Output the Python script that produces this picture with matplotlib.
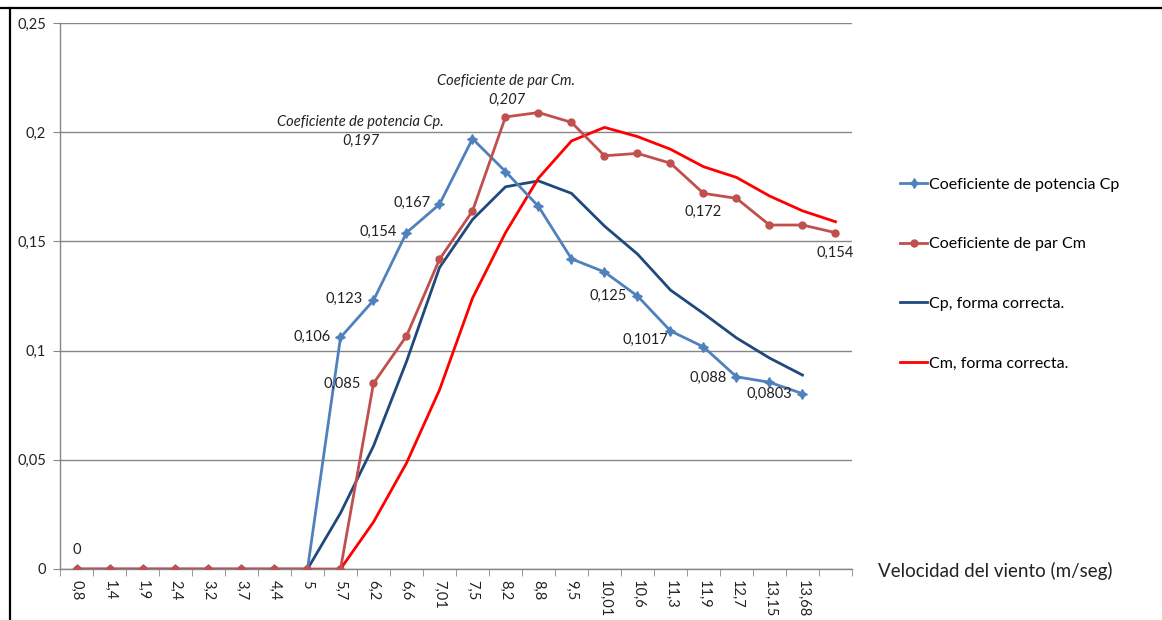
import numpy as np
import matplotlib
matplotlib.use("Agg")
import matplotlib.pyplot as plt
from matplotlib.lines import Line2D

plt.rcParams['font.family'] = ['Lato', 'DejaVu Sans']

nan = np.nan
velocidades = ["0,8", "1,4", "1,9", "2,4", "3,2", "3,7", "4,4", "5", "5,7", "6,2", "6,6", "7,01",
               "7,5", "8,2", "8,8", "9,5", "10,01", "10,6", "11,3", "11,9", "12,7", "13,15", "13,68", ""]

cp = [0, 0, 0, 0, 0, 0, 0, 0, 0.106, 0.123, 0.154, 0.167, 0.197, 0.182, 0.166, 0.142,
      0.136, 0.125, 0.109, 0.1017, 0.088, 0.0855, 0.0803, nan]
cm = [0, 0, 0, 0, 0, 0, 0, 0, 0, 0.085, 0.1067, 0.1418, 0.1639, 0.207, 0.209, 0.2045,
      0.1892, 0.1903, 0.1858, 0.172, 0.1697, 0.1575, 0.1575, 0.154]
cp_correcta = [nan, nan, nan, nan, nan, nan, nan, 0, 0.0256, 0.0563, 0.095, 0.138, 0.160,
               0.175, 0.1777, 0.172, 0.157, 0.1442, 0.1277, 0.117, 0.1058, 0.0966, 0.0888, nan]
cm_correcta = [nan, nan, nan, nan, nan, nan, nan, nan, 0, 0.0215, 0.0485, 0.082, 0.124, 0.154,
               0.179, 0.196, 0.2022, 0.198, 0.1922, 0.1842, 0.1793, 0.1708, 0.164, 0.159]

y_ticks = [0, 0.05, 0.1, 0.15, 0.2, 0.25]
y_labels = ["0", "0,05", "0,1", "0,15", "0,2", "0,25"]

W, H = 1162, 620
fig = plt.figure(figsize=(W / 100, H / 100), dpi=100)
ax = fig.add_axes([60 / W, 1 - 569 / H, (852 - 60) / W, (569 - 23) / H])

x = np.arange(len(velocidades))
c_cp, c_cm, c_cpc, c_cmc = "#4F81BD", "#C0504D", "#1F497D", "#FF0000"

ax.plot(x, cp_correcta, color=c_cpc, lw=2, zorder=3, label="Cp, forma correcta.")
ax.plot(x, cm_correcta, color=c_cmc, lw=2, zorder=3, label="Cm, forma correcta.")
ax.plot(x, cp, color=c_cp, lw=2, marker=(4, 1, 0), markersize=7, zorder=4,
        label="Coeficiente de potencia Cp")
ax.plot(x, cm, color=c_cm, lw=2, marker="o", markersize=5, zorder=5,
        label="Coeficiente de par Cm")

ax.set_xlim(-0.5, len(velocidades) - 0.5)
ax.set_ylim(0, 0.25)
ax.set_yticks(y_ticks)
ax.set_yticklabels(y_labels)
ax.set_xticks(x)
ax.set_xticklabels(velocidades, rotation=270, fontsize=10.5)
ax.set_xticks(np.arange(-0.5, len(velocidades)), minor=True)
ax.tick_params(axis='x', which='major', length=0, pad=8)
ax.tick_params(axis='x', which='minor', length=5, color="#868686", direction='out')
ax.tick_params(axis='y', length=5, color="#868686", labelsize=10.5, pad=5)
for lab in ax.get_xticklabels() + ax.get_yticklabels():
    lab.set_color("#222222")

ax.grid(axis='y', color="#868686", lw=1)
ax.set_axisbelow(True)
for s in ["top", "right"]:
    ax.spines[s].set_visible(False)
for s in ["left", "bottom"]:
    ax.spines[s].set_color("#868686")
    ax.spines[s].set_linewidth(1)

def lab(i, series, text, dx, dy, italic=False):
    ax.annotate(text, xy=(x[i], series[i]), xytext=(dx, dy), textcoords='offset pixels',
                ha='center', va='center', fontsize=10.5, color="#222222",
                style='italic' if italic else 'normal', zorder=6)

lab(0, cm, "0", 0, 19)
lab(8, cp, "0,106", -28, 1)
lab(9, cp, "0,123", -29, 1)
lab(10, cp, "0,154", -28, 1)
lab(11, cp, "0,167", -27, 1)
lab(12, cp, "Coeficiente de potencia Cp.", -112, 17, italic=True)
lab(12, cp, "0,197", -112, -2, italic=True)
lab(13, cm, "Coeficiente de par Cm.", 0, 36, italic=True)
lab(13, cm, "0,207", 1, 17, italic=True)
lab(9, cm, "0,085", -31, -1)
lab(17, cp, "0,125", -29, 0)
lab(19, cp, "0,1017", -58, 7)
lab(20, cp, "0,088", -28, -1)
lab(22, cp, "0,0803", -33, 0)
lab(19, cm, "0,172", 0, -19)
lab(23, cm, "0,154", 0, -20)

handles, labels = ax.get_legend_handles_labels()
order = [2, 3, 0, 1]
fig.legend([handles[k] for k in order], [labels[k] for k in order],
           loc='upper left', bbox_to_anchor=(886 / W, 1 - 163 / H), frameon=False,
           fontsize=11.5, labelspacing=2.85, handlelength=1.65, handletextpad=0.15)

fig.text(878 / W, 1 - 571 / H, "Velocidad del viento (m/seg)", fontsize=13.5,
         ha='left', va='center', color="#222222")

fig.add_artist(Line2D([0, 1], [1 - 7.5 / H] * 2, color='black', lw=1.6))
fig.add_artist(Line2D([9.5 / W] * 2, [0, 1 - 7.5 / H], color='black', lw=1.6))

fig.savefig("out.png", dpi=100)
